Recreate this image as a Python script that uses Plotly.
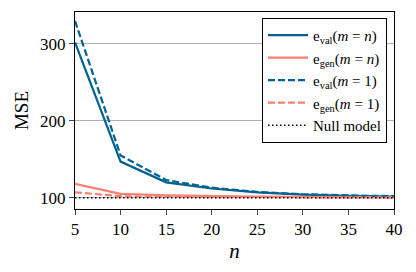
import plotly.graph_objects as go

n_values = [5, 10, 15, 20, 25, 30, 35, 40]
e_val_mn = [302, 147, 120, 112, 107, 104, 102.5, 101.5]
e_gen_mn = [118, 105, 103, 102, 101.5, 101, 100.8, 100.5]
e_val_m1 = [330, 155, 123, 113, 107.5, 104.5, 103, 102]
e_gen_m1 = [107, 102, 101, 100.8, 100.5, 100.3, 100.2, 100.2]
null_model = [100] * len(n_values)

x_ticks = [5, 10, 15, 20, 25, 30, 35, 40]
y_ticks = [100, 200, 300]

BLUE = "#00628f"
SALMON = "#fa8072"
FONT = "Liberation Serif"
DASH = "7px,3px"

fig = go.Figure()
fig.add_trace(go.Scatter(x=n_values, y=e_val_mn, mode="lines",
                         line=dict(color=BLUE, width=2.2),
                         name="e<sub>val</sub>(<i>m</i> = <i>n</i>)"))
fig.add_trace(go.Scatter(x=n_values, y=e_gen_mn, mode="lines",
                         line=dict(color=SALMON, width=2.2),
                         name="e<sub>gen</sub>(<i>m</i> = <i>n</i>)"))
fig.add_trace(go.Scatter(x=n_values, y=e_val_m1, mode="lines",
                         line=dict(color=BLUE, width=2.2, dash=DASH),
                         name="e<sub>val</sub>(<i>m</i> = 1)"))
fig.add_trace(go.Scatter(x=n_values, y=e_gen_m1, mode="lines",
                         line=dict(color=SALMON, width=2.2, dash=DASH),
                         name="e<sub>gen</sub>(<i>m</i> = 1)"))
fig.add_trace(go.Scatter(x=n_values, y=null_model, mode="lines",
                         line=dict(color="black", width=1.5, dash="1.5px,2.5px"),
                         name="Null model"))

fig.update_layout(
    width=416, height=272,
    margin=dict(l=67, r=30, t=4, b=71),
    paper_bgcolor="white", plot_bgcolor="white",
    font=dict(family=FONT, size=15, color="black"),
    showlegend=True,
    legend=dict(x=0.978, y=0.97, xanchor="right", yanchor="top",
                bgcolor="white", bordercolor="black", borderwidth=1,
                font=dict(size=15, family=FONT), tracegroupgap=0,
                itemwidth=40),
)
fig.update_xaxes(range=[5, 40], tickvals=x_ticks, ticks="outside", ticklen=5,
                 showline=True, linecolor="black", linewidth=1, mirror=True,
                 showgrid=False, zeroline=False,
                 title=dict(text="<i>n</i>", font=dict(size=21), standoff=4),
                 tickfont=dict(size=17))
fig.update_yaxes(range=[85.3, 341.6], tickvals=y_ticks, ticks="outside", ticklen=5,
                 showline=True, linecolor="black", linewidth=1, mirror=True,
                 showgrid=True, gridcolor="#b0b0b0", gridwidth=1, zeroline=False,
                 title=dict(text="MSE", font=dict(size=19), standoff=6),
                 tickfont=dict(size=17))

fig.write_html("out.html")
